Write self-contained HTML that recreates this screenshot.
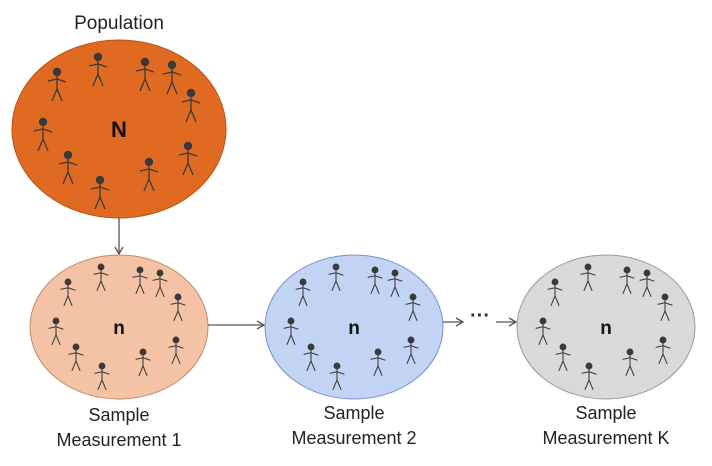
<!DOCTYPE html>
<html><head><meta charset="utf-8"><style>
html,body{margin:0;padding:0;background:#fff;}
svg{display:block;font-family:"Liberation Sans",sans-serif;}
</style></head><body>
<svg id="d" width="712" height="466" viewBox="0 0 712 466">
<defs><marker id="ah" markerWidth="10" markerHeight="10" refX="8" refY="5" orient="auto" markerUnits="userSpaceOnUse"><path d="M1,1 L8,5 L1,9" fill="none" stroke="#555" stroke-width="1.3"/></marker></defs>
<text x="119" y="29" text-anchor="middle" font-size="19" fill="#222">Population</text>
<ellipse cx="119" cy="129" rx="107" ry="89" fill="#E06A22" stroke="#B85418" stroke-width="1"/>
<ellipse cx="119" cy="327" rx="89" ry="72" fill="#F4C3A5" stroke="#C48A66" stroke-width="1"/>
<ellipse cx="354" cy="327" rx="89" ry="72" fill="#C3D3F3" stroke="#7592CF" stroke-width="1"/>
<ellipse cx="606" cy="327" rx="89" ry="72" fill="#D9D9D9" stroke="#9A9A9A" stroke-width="1"/>
<g stroke="#555" stroke-width="1.3" fill="none">
<line x1="119" y1="218" x2="119" y2="254" marker-end="url(#ah)"/>
<line x1="208" y1="325" x2="264" y2="325" marker-end="url(#ah)"/>
<line x1="443" y1="322" x2="463" y2="322" marker-end="url(#ah)"/>
<line x1="496" y1="322" x2="516" y2="322" marker-end="url(#ah)"/>
</g>
<text x="480" y="322" text-anchor="middle" font-size="20" font-weight="bold" fill="#333">···</text>
<text x="119" y="137" text-anchor="middle" font-size="22" font-weight="bold" fill="#111">N</text>
<text x="119" y="334" text-anchor="middle" font-size="19" font-weight="bold" fill="#111">n</text>
<text x="354" y="334" text-anchor="middle" font-size="19" font-weight="bold" fill="#111">n</text>
<text x="606" y="334" text-anchor="middle" font-size="19" font-weight="bold" fill="#111">n</text>
<g font-size="18" fill="#222" text-anchor="middle">
<text x="119" y="421">Sample</text>
<text x="119" y="446">Measurement 1</text>
<text x="354" y="419">Sample</text>
<text x="354" y="444">Measurement 2</text>
<text x="606" y="419">Sample</text>
<text x="606" y="444">Measurement K</text>
</g>
<g id="figs"></g>
</svg>
<script>
const popDX=[-62,-21,26,53,72,-76,-51,-19,30,69];
const popDY=[-57,-72,-67,-64,-36,-7,26,51,33,17];
const smpDX=[-51,-18,21,41,59,-63,-43,-17,24,57];
const smpDY=[-45,-60,-57,-54,-30,-6,20,39,25,13];
const NS="http://www.w3.org/2000/svg";
const g=document.getElementById('figs');
function fig(x,y,s){
  const f=document.createElementNS(NS,'g');
  
  
  f.setAttribute('stroke','#3a3a3a');f.setAttribute('stroke-width','1.3');f.setAttribute('fill','none');
  f.setAttribute('transform','translate('+x+','+y+') scale('+s+')');
  f.innerHTML='<circle cx="0" cy="0" r="4.2" fill="#3a3a3a" stroke="none"/><line x1="0" y1="3" x2="0" y2="17"/><line x1="-9" y1="9" x2="0" y2="7"/><line x1="0" y1="7" x2="9" y2="10"/><line x1="0" y1="17" x2="-5" y2="29"/><line x1="0" y1="17" x2="5" y2="29"/>';
  g.appendChild(f);
}
for(let i=0;i<popDX.length;i++) fig(119+popDX[i],129+popDY[i],1);
[119,354,606].forEach(cx=>{for(let i=0;i<smpDX.length;i++) fig(cx+smpDX[i],327+smpDY[i],0.82);});
</script>
</body></html>
